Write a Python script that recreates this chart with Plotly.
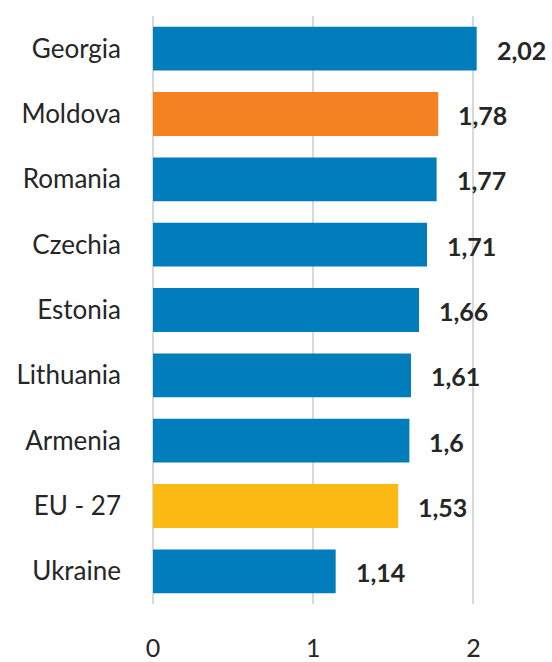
import plotly.graph_objects as go

countries = ["Georgia", "Moldova", "Romania", "Czechia", "Estonia", "Lithuania", "Armenia", "EU - 27", "Ukraine"]
values = [2.02, 1.78, 1.77, 1.71, 1.66, 1.61, 1.60, 1.53, 1.14]
labels = ["2,02", "1,78", "1,77", "1,71", "1,66", "1,61", "1,6", "1,53", "1,14"]
colors = ["#007DBA", "#F58220", "#007DBA", "#007DBA", "#007DBA", "#007DBA", "#007DBA", "#FDB913", "#007DBA"]
x_ticks = [0, 1, 2]

FONT = "Lato, 'Open Sans', sans-serif"

fig = go.Figure(go.Bar(
    y=countries, x=values, orientation="h",
    marker=dict(color=colors, line=dict(width=0)),
    hoverinfo="skip",
))

for c, v, t in zip(countries, values, labels):
    fig.add_annotation(x=v, y=c, text=f"<b>{t}</b>", showarrow=False,
                       xanchor="left", xshift=18, yshift=-1,
                       font=dict(size=25, color="#262626", family=FONT))

fig.update_layout(
    width=552, height=662,
    margin=dict(l=153, r=0, t=16, b=58, autoexpand=False),
    plot_bgcolor="white", paper_bgcolor="white",
    bargap=0.33, showlegend=False,
    font=dict(family=FONT, size=25, color="#262626"),
)
fig.update_xaxes(range=[0, 2.49], tickvals=x_ticks, ticktext=[str(v) for v in x_ticks],
                 showgrid=True, gridcolor="#D9D9D9", gridwidth=2,
                 zeroline=True, zerolinecolor="#D9D9D9", zerolinewidth=2,
                 showline=False, ticklabelstandoff=27, automargin=False,
                 tickfont=dict(size=25, color="#262626"))
fig.update_yaxes(autorange="reversed", showgrid=False, showline=False,
                 ticklabelstandoff=31, automargin=False,
                 tickfont=dict(size=26, color="#262626"))

fig.write_html("out.html", config={"displayModeBar": False},
               post_script="document.body.style.margin='0';document.body.style.overflow='hidden';")
